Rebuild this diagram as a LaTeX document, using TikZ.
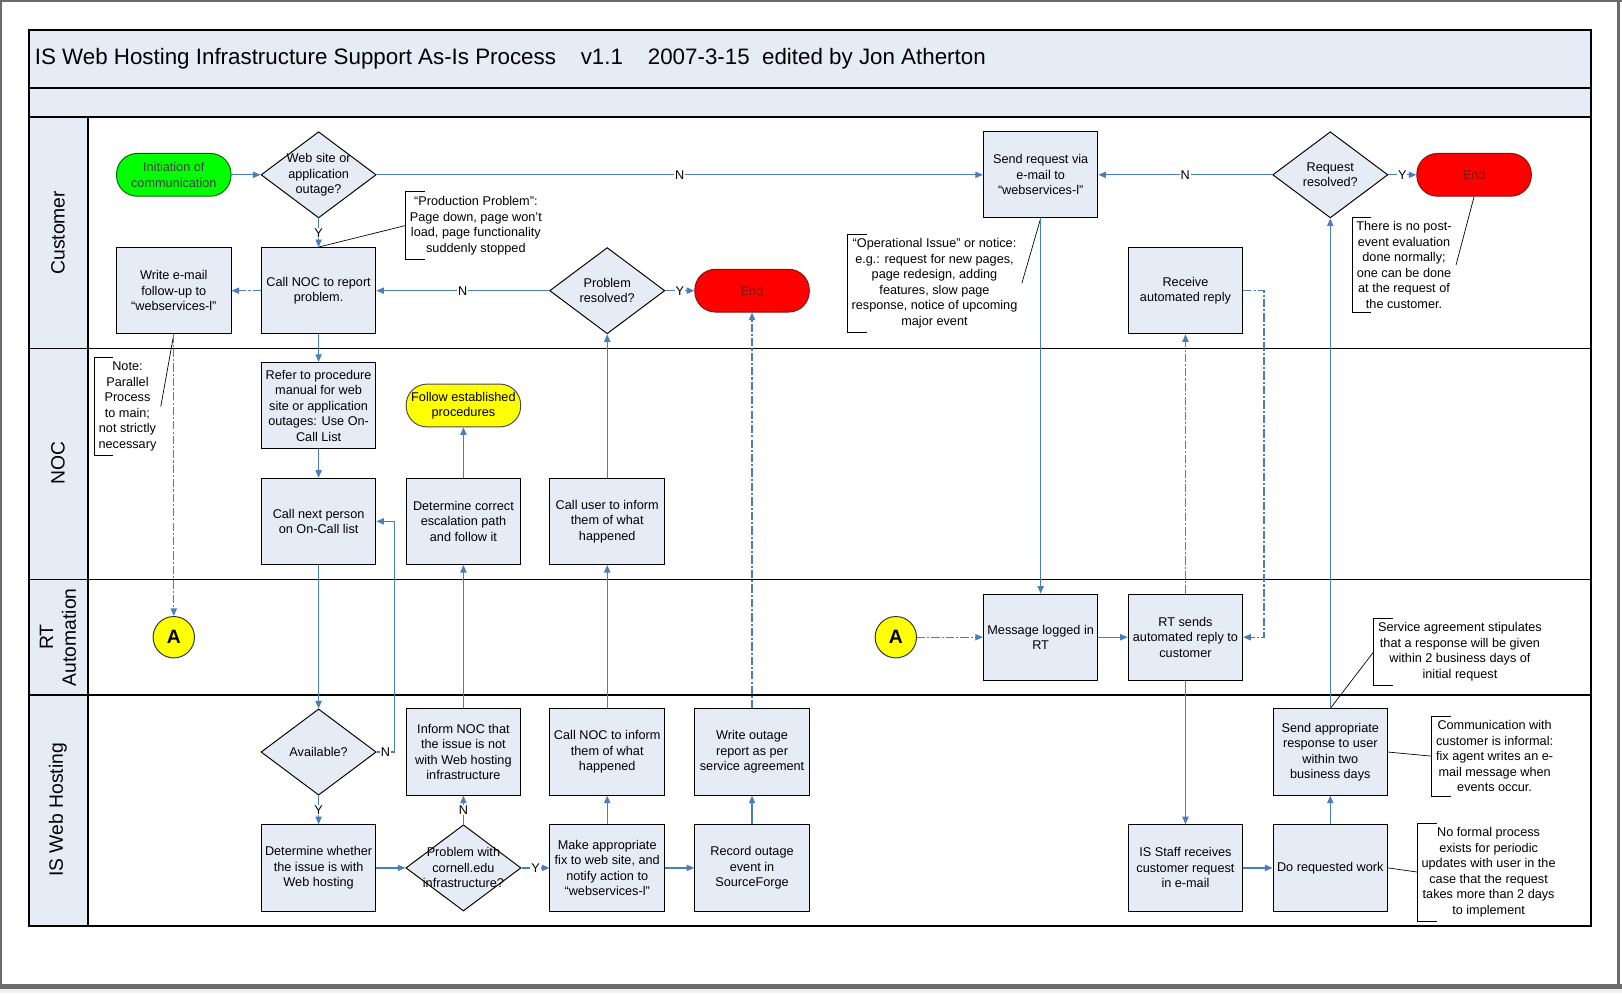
\documentclass[tikz,border=0pt]{standalone}
\usepackage{fontspec}
\setmainfont{Liberation Sans}
\usepackage{tikz}
\usetikzlibrary{shapes.geometric,arrows.meta}

\definecolor{boxfill}{HTML}{E6ECF6}
\definecolor{flowblue}{HTML}{4A7EBB}
\definecolor{framegray}{HTML}{6B6B6B}
\definecolor{stripgray}{HTML}{EEF0F3}
\definecolor{startgreen}{HTML}{00FF00}
\definecolor{endred}{HTML}{FF0000}
\definecolor{endtext}{HTML}{8B1010}
\definecolor{jumpyellow}{HTML}{FFFF00}

\newcommand{\boxfont}{\fontsize{9.2}{11.25}\selectfont}
\newcommand{\lanefont}{\fontsize{14}{16.5}\selectfont}
\newcommand{\notebrack}[1]{\draw[bracket] ([xshift=14pt]#1.north west) -- (#1.north west) -- (#1.south west) -- ([xshift=14pt]#1.south west);}

\begin{document}
\begin{tikzpicture}[x=0.75pt,y=-0.75pt,
	procbox/.style={draw=black, line width=0.7pt, fill=boxfill, minimum width=83pt, minimum height=62.5pt, inner sep=1pt, align=center, font=\boxfont},
	decision/.style={diamond, draw=black, line width=0.7pt, fill=boxfill, minimum width=83.5pt, minimum height=62.5pt, inner sep=0pt},
	dtext/.style={align=center, font=\boxfont, inner sep=0pt},
	terminal/.style={rectangle, rounded corners=15pt, line width=0.7pt, minimum width=83pt, minimum height=31pt, inner sep=1pt, align=center, font=\boxfont},
	jump/.style={circle, draw=black!80, line width=0.7pt, fill=jumpyellow, minimum size=30pt, inner sep=0pt, font=\fontsize{14}{16}\selectfont\bfseries},
	conn/.style={draw=flowblue, line width=0.9pt, -{Triangle[length=5.5pt,width=4.5pt]}},
	dashconn/.style={conn, dash pattern=on 6pt off 1.5pt on 1.5pt off 1.5pt},
	ynlabel/.style={fill=white, inner sep=0.6pt, font=\boxfont},
	notetext/.style={align=center, font=\boxfont, inner xsep=3pt, inner ysep=3pt},
	bracket/.style={draw=black, line width=0.6pt},
	leader/.style={draw=black, line width=0.5pt},
	lane/.style={draw=black, line width=1.1pt},
	lanename/.style={rotate=90, align=center, font=\lanefont}]

	\useasboundingbox (0,0) rectangle (1568,960);
	\fill[white] (0,0) rectangle (1568,960);
	\fill[stripgray] (0,956) rectangle (1568,960);
	\fill[framegray] (0,0) rectangle (1568,2);
	\fill[framegray] (0,0) rectangle (1.5,956);
	\fill[framegray] (1563.5,0) rectangle (1566.5,956);
	\fill[framegray] (0,951) rectangle (1568,956);

	\draw[lane, fill=boxfill] (28,29) rectangle (1538,85);
	\draw[lane, fill=boxfill] (28,85) rectangle (1538,113);
	\draw[lane, fill=white] (28,113) rectangle (1538,895);
	\draw[lane, fill=boxfill] (28,113) rectangle (85,895);
	\draw[lane] (28,337) -- (1538,337);
	\draw[lane] (28,560) -- (1538,560);
	\draw[lane] (28,672) -- (1538,672);

	\node[anchor=west, font=\fontsize{16.2}{19}\selectfont] (title) at (29,57) {IS Web Hosting Infrastructure Support As-Is Process\hspace{18pt}v1.1\hspace{18pt}2007-3-15\hspace{9pt}edited by Jon Atherton};
	\node[lanename] (lanecust) at (56,225) {Customer};
	\node[lanename] (lanenoc) at (56,448) {NOC};
	\node[lanename] (lanert) at (56,616) {RT\\Automation};
	\node[lanename] (laneweb) at (56,783) {IS Web Hosting};

	\node[terminal, draw=green!40!black, fill=startgreen, text=black!75] (init) at (168,169) {Initiation of\\communication};
	\node[decision, label={[dtext]center:Web site or\\application\\outage?}] (outage) at (308,169) {};
	\node[procbox] (sendreq) at (1006,169) {Send request via\\e-mail to\\“webservices-l”};
	\node[decision, label={[dtext]center:Request\\resolved?}] (reqres) at (1286,169) {};
	\node[terminal, draw=endtext, fill=endred, text=endtext] (endc) at (1425,169) {End};
	\node[procbox] (followup) at (168,281) {Write e-mail\\follow-up to\\“webservices-l”};
	\node[procbox] (callnoc) at (308,281) {Call NOC to report\\problem.};
	\node[decision, label={[dtext]center:Problem\\resolved?}] (probres) at (587,281) {};
	\node[terminal, draw=endtext, fill=endred, text=endtext] (endn) at (727,281) {End};
	\node[procbox] (recvreply) at (1146,281) {Receive\\automated reply};

	\node[procbox] (refer) at (308,392) {Refer to procedure\\manual for web\\site or application\\outages: Use On-\\Call List};
	\node[terminal, draw=black!70, fill=jumpyellow] (follow) at (448,392) {Follow established\\procedures};
	\node[procbox] (callnext) at (308,504) {Call next person\\on On-Call list};
	\node[procbox] (escal) at (448,504) {Determine correct\\escalation path\\and follow it};
	\node[procbox] (calluser) at (587,504) {Call user to inform\\them of what\\happened};

	\node[jump] (conA) at (168,616) {A};
	\node[jump] (conB) at (866,616) {A};
	\node[procbox] (msglog) at (1006,616) {Message logged in\\RT};
	\node[procbox] (rtsends) at (1146,616) {RT sends\\automated reply to\\customer};

	\node[decision, label={[dtext]center:Available?}] (avail) at (308,727) {};
	\node[procbox] (informnoc) at (448,727) {Inform NOC that\\the issue is not\\with Web hosting\\infrastructure};
	\node[procbox] (callnocinf) at (587,727) {Call NOC to inform\\them of what\\happened};
	\node[procbox] (writerep) at (727,727) {Write outage\\report as per\\service agreement};
	\node[procbox] (sendresp) at (1286,727) {Send appropriate\\response to user\\within two\\business days};
	\node[procbox] (detwhether) at (308,839) {Determine whether\\the issue is with\\Web hosting};
	\node[decision, label={[dtext]center:Problem with\\cornell.edu\\infrastructure?}] (probcornell) at (448,839) {};
	\node[procbox] (makefix) at (587,839) {Make appropriate\\fix to web site, and\\notify action to\\“webservices-l”};
	\node[procbox] (recordev) at (727,839) {Record outage\\event in\\SourceForge};
	\node[procbox] (isstaff) at (1146,839) {IS Staff receives\\customer request\\in e-mail};
	\node[procbox] (dowork) at (1286,839) {Do requested work};

	\node[notetext, anchor=west] (prodnote) at (392,218) {“Production Problem”:\\Page down, page won’t\\load, page functionality\\suddenly stopped};
	\node[notetext, anchor=west] (opnote) at (819,274) {“Operational Issue” or notice:\\e.g.: request for new pages,\\page redesign, adding\\features, slow page\\response, notice of upcoming\\major event};
	\node[notetext, anchor=west] (postnote) at (1307,256) {There is no post-\\event evaluation\\done normally;\\one can be done\\at the request of\\the customer.};
	\node[notetext, anchor=west] (parnote) at (91,393) {Note:\\Parallel\\Process\\to main;\\not strictly\\necessary};
	\node[notetext, anchor=west] (servnote) at (1328,630) {Service agreement stipulates\\that a response will be given\\within 2 business days of\\initial request};
	\node[notetext, anchor=west] (commnote) at (1384,731) {Communication with\\customer is informal:\\fix agent writes an e-\\mail message when\\events occur.};
	\node[notetext, anchor=west] (formnote) at (1370,843) {No formal process\\exists for periodic\\updates with user in the\\case that the request\\takes more than 2 days\\to implement};
	\notebrack{prodnote}
	\notebrack{opnote}
	\notebrack{postnote}
	\notebrack{parnote}
	\notebrack{servnote}
	\notebrack{commnote}
	\notebrack{formnote}
	\draw[leader] (prodnote.west) -- (callnoc.north);
	\draw[leader] (opnote.east) -- (sendreq.south);
	\draw[leader] (postnote.east) -- (endc.south);
	\draw[leader] (parnote.east) -- (followup.south);
	\draw[leader] (servnote.west) -- (sendresp.north);
	\draw[leader] (sendresp.east) -- (commnote.west);
	\draw[leader] (dowork.east) -- (formnote.west);

	\draw[conn] (init.east) -- (outage.west);
	\draw[conn] (outage.east) -- node[ynlabel]{N} (sendreq.west);
	\draw[conn] (outage.south) -- node[ynlabel]{Y} (callnoc.north);
	\draw[dashconn] (callnoc.west) -- (followup.east);
	\draw[conn] (probres.west) -- node[ynlabel]{N} (callnoc.east);
	\draw[conn] (probres.east) -- node[ynlabel]{Y} (endn.west);
	\draw[conn] (reqres.west) -- node[ynlabel]{N} (sendreq.east);
	\draw[conn] (reqres.east) -- node[ynlabel]{Y} (endc.west);
	\draw[dashconn] (followup.south) -- (conA.north);
	\draw[conn] (callnoc.south) -- (refer.north);
	\draw[conn] (sendreq.south) -- (msglog.north);
	\draw[dashconn] (recvreply.east) -- ++(20,0) |- (rtsends.east);
	\draw[dashconn] (rtsends.north) -- (recvreply.south);
	\draw[conn] (sendresp.north) -- (reqres.south);
	\draw[conn] (refer.south) -- (callnext.north);
	\draw[conn] (escal.north) -- (follow.south);
	\draw[conn] (calluser.north) -- (probres.south);
	\draw[conn] (callnext.south) -- (avail.north);
	\draw[conn] (avail.east) -- node[ynlabel]{N} ++(17,0) |- (callnext.east);
	\draw[conn] (informnoc.north) -- (escal.south);
	\draw[conn] (callnocinf.north) -- (calluser.south);
	\draw[dashconn] (writerep.north) -- (endn.south);
	\draw[dashconn] (conB.east) -- (msglog.west);
	\draw[conn] (msglog.east) -- (rtsends.west);
	\draw[conn] (rtsends.south) -- (isstaff.north);
	\draw[conn] (avail.south) -- node[ynlabel]{Y} (detwhether.north);
	\draw[conn] (detwhether.east) -- (probcornell.west);
	\draw[conn] (probcornell.north) -- node[ynlabel]{N} (informnoc.south);
	\draw[conn] (probcornell.east) -- node[ynlabel]{Y} (makefix.west);
	\draw[conn] (makefix.north) -- (callnocinf.south);
	\draw[conn] (makefix.east) -- (recordev.west);
	\draw[conn] (recordev.north) -- (writerep.south);
	\draw[conn] (isstaff.east) -- (dowork.west);
	\draw[conn] (dowork.north) -- (sendresp.south);
\end{tikzpicture}
\end{document}
